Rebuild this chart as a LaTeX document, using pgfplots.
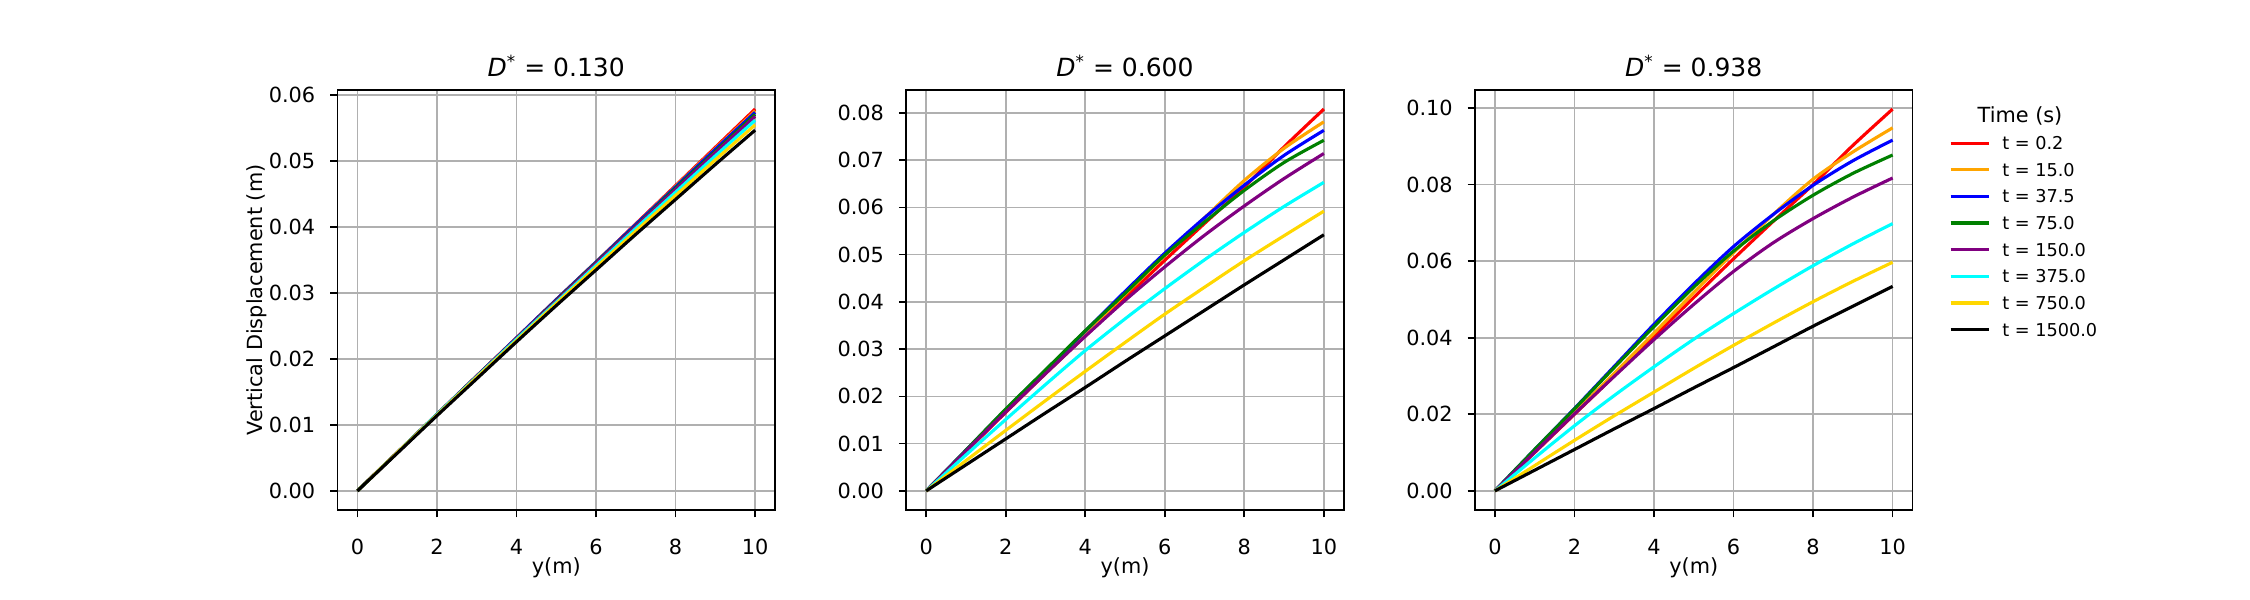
\documentclass[border=0pt]{standalone}
\usepackage{fontspec}
\setmainfont{DejaVu Sans}
\usepackage{pgfplots}
\pgfplotsset{compat=1.18}
\usepackage{pgfplotstable}

\definecolor{gridc}{HTML}{B0B0B0}
\definecolor{mred}{HTML}{FF0000}
\definecolor{morange}{HTML}{FFA500}
\definecolor{mblue}{HTML}{0000FF}
\definecolor{mgreen}{HTML}{008000}
\definecolor{mpurple}{HTML}{800080}
\definecolor{mcyan}{HTML}{00FFFF}
\definecolor{mgold}{HTML}{FFD700}

% columns: x, t=0.2, 15, 37.5, 75, 150, 375, 750, 1500
\pgfplotstableread{
x  r      o      b      g      p      c      y      k
0  0      0      0      0      0      0      0      0
1  0.0058 0.0058 0.0058 0.0058 0.0058 0.0058 0.0058 0.0057
2  0.0116 0.0116 0.0116 0.0116 0.0116 0.0116 0.0115 0.0114
3  0.0174 0.0174 0.0174 0.0174 0.0174 0.0173 0.0172 0.0170
4  0.0232 0.0232 0.0232 0.0231 0.0231 0.0230 0.0228 0.0226
5  0.0290 0.0289 0.0290 0.0289 0.0288 0.0286 0.0284 0.0281
6  0.0347 0.0347 0.0347 0.0346 0.0345 0.0342 0.0339 0.0335
7  0.0405 0.0404 0.0404 0.0402 0.0401 0.0398 0.0394 0.0389
8  0.0463 0.0462 0.0461 0.0459 0.0457 0.0453 0.0448 0.0442
9  0.0521 0.0519 0.0518 0.0515 0.0513 0.0508 0.0502 0.0495
10 0.0579 0.0576 0.0574 0.0571 0.0568 0.0562 0.0555 0.0547
}\tA

\pgfplotstableread{
x  r      o      b      g      p      c      y      k
0  0      0      0      0      0      0      0      0
1  0.0083 0.0084 0.0086 0.0086 0.0084 0.0076 0.0064 0.0055
2  0.0166 0.0169 0.0172 0.0173 0.0167 0.0151 0.0128 0.0110
3  0.0248 0.0252 0.0255 0.0256 0.0248 0.0225 0.0191 0.0165
4  0.0328 0.0334 0.0338 0.0339 0.0327 0.0297 0.0253 0.0219
5  0.0408 0.0416 0.0422 0.0418 0.0403 0.0364 0.0314 0.0274
6  0.0488 0.0498 0.0503 0.0499 0.0474 0.0428 0.0374 0.0328
7  0.0566 0.0578 0.0578 0.0569 0.0541 0.0489 0.0431 0.0382
8  0.0643 0.0657 0.0647 0.0636 0.0603 0.0547 0.0487 0.0436
9  0.0728 0.0725 0.0710 0.0695 0.0661 0.0602 0.0540 0.0489
10 0.0808 0.0781 0.0763 0.0742 0.0714 0.0653 0.0592 0.0542
}\tB

\pgfplotstableread{
x  r      o      b      g      p      c      y      k
0  0      0      0      0      0      0      0      0
1  0.0100 0.0102 0.0108 0.0108 0.0101 0.0086 0.0066 0.0054
2  0.0200 0.0204 0.0215 0.0214 0.0201 0.0170 0.0132 0.0108
3  0.0300 0.0307 0.0325 0.0322 0.0299 0.0249 0.0196 0.0162
4  0.0403 0.0412 0.0435 0.0429 0.0395 0.0324 0.0258 0.0215
5  0.0505 0.0518 0.0540 0.0532 0.0487 0.0396 0.0320 0.0269
6  0.0606 0.0622 0.0638 0.0626 0.0573 0.0463 0.0380 0.0322
7  0.0704 0.0722 0.0722 0.0705 0.0648 0.0527 0.0438 0.0376
8  0.0800 0.0814 0.0798 0.0772 0.0711 0.0588 0.0494 0.0430
9  0.0902 0.0885 0.0862 0.0829 0.0767 0.0645 0.0547 0.0482
10 0.0997 0.0948 0.0916 0.0877 0.0817 0.0698 0.0597 0.0534
}\tC

\pgfplotsset{
  myax/.style={
    scale only axis, width=210pt, height=201.6pt, anchor=south west,
    xmin=-0.5, xmax=10.5, xtick={0,2,4,6,8,10},
    grid=major, grid style={draw=gridc, line width=0.8pt},
    axis line style={line width=0.8pt, black},
    every tick/.style={black, line width=0.8pt},
    major tick length=3.5pt, tick align=outside, tick pos=left,
    tick label style={font=\fontsize{10}{12}\selectfont},
    /pgf/number format/assume math mode=true,
    xticklabel style={inner sep=0pt, anchor=north, yshift=-10.4pt},
    yticklabel style={inner sep=0pt, anchor=east, xshift=-7pt,
      /pgf/number format/fixed, /pgf/number format/fixed zerofill,
      /pgf/number format/precision=2},
    scaled y ticks=false,
    xlabel={y(m)},
    every axis x label/.style={at={(axis description cs:0.5,0)}, anchor=north,
      yshift=-22.5pt, inner sep=0pt, font=\fontsize{10}{12}\selectfont},
    every axis y label/.style={at={(axis description cs:-0.1838,0.5)}, rotate=90,
      anchor=center, inner sep=0pt, font=\fontsize{10}{12}\selectfont},
    title style={font=\fontsize{12}{14}\selectfont, at={(axis description cs:0.5,1)},
      anchor=base, yshift=0.5pt, inner sep=0pt},
    every axis plot/.append style={line width=1.5pt, smooth, no markers},
  }
}

\newcommand{\curves}[1]{%
  \addplot[mred]    table[x=x,y=r]{#1};
  \addplot[morange] table[x=x,y=o]{#1};
  \addplot[mblue]   table[x=x,y=b]{#1};
  \addplot[mgreen]  table[x=x,y=g]{#1};
  \addplot[mpurple] table[x=x,y=p]{#1};
  \addplot[mcyan]   table[x=x,y=c]{#1};
  \addplot[mgold]   table[x=x,y=y]{#1};
  \addplot[black]   table[x=x,y=k]{#1};
}

\begin{document}
\begin{tikzpicture}
\path[use as bounding box] (0pt,0pt) rectangle (1080pt,288pt);

\begin{axis}[myax, at={(162pt,43.2pt)},
  ymin=-0.002895, ymax=0.060795, ytick={0,0.01,...,0.06},
  ylabel={Vertical Displacement (m)},
  title={\textit{D}\textsuperscript{*} = 0.130}]
\curves{\tA}
\end{axis}

\begin{axis}[myax, at={(435pt,43.2pt)},
  ymin=-0.00404, ymax=0.08484, ytick={0,0.01,...,0.08},
  title={\textit{D}\textsuperscript{*} = 0.600}]
\curves{\tB}
\end{axis}

\begin{axis}[myax, at={(708pt,43.2pt)},
  ymin=-0.004985, ymax=0.104685, ytick={0,0.02,...,0.10},
  title={\textit{D}\textsuperscript{*} = 0.938},
  legend image code/.code={\draw[#1] (0pt,0pt) -- (18.3pt,0pt);},
  legend style={draw=none, fill=none, at={(axis description cs:1.0833,0.889)},
    anchor=north west, inner sep=0pt, outer sep=0pt,
    row sep=6.6pt, column sep=5.8pt,
    font=\fontsize{8.5}{10}\selectfont,
    nodes={inner sep=0pt, text height=6.2pt, text depth=0pt}},
  legend cell align=left]
\curves{\tC}
\legend{t = 0.2, t = 15.0, t = 37.5, t = 75.0, t = 150.0, t = 375.0, t = 750.0, t = 1500.0}
\end{axis}

\node[anchor=base, inner sep=0pt, font=\fontsize{10}{12}\selectfont] at (969.6pt,229pt) {Time (s)};
\end{tikzpicture}
\end{document}
